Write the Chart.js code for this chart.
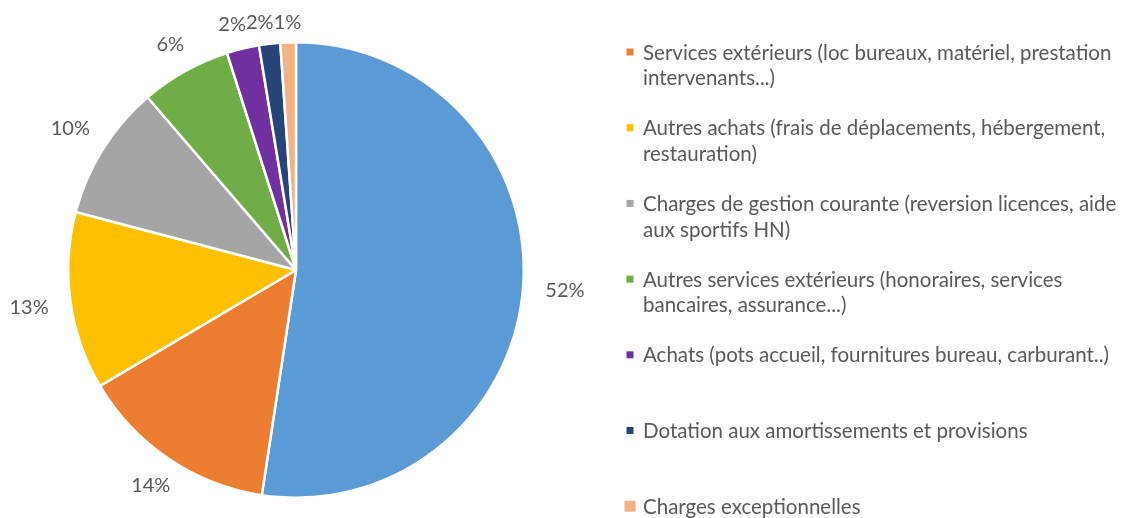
<!DOCTYPE html>
<html>
<head>
<meta charset="utf-8">
<script src="https://cdn.jsdelivr.net/npm/chart.js@4"></script>
<style>
  html, body { margin: 0; padding: 0; background: #fff; }
  canvas { display: block; }
</style>
</head>
<body>
<canvas id="pie" width="1121" height="518"></canvas>
<script>
// categories, in drawing order (clockwise from 12 o'clock)
// the first one (blue) is not visible in the legend of the reference
const categories = [
  ['Charges de personnel'],
  ['Services extérieurs (loc bureaux, matériel, prestation', 'intervenants...)'],
  ['Autres achats (frais de déplacements, hébergement,', 'restauration)'],
  ['Charges de gestion courante (reversion licences, aide', 'aux sportifs HN)'],
  ['Autres services extérieurs (honoraires, services', 'bancaires, assurance...)'],
  ['Achats (pots accueil, fournitures bureau, carburant..)'],
  ['Dotation aux amortissements et provisions'],
  ['Charges exceptionnelles']
]
// share of each item, in %
const shares = [52.4, 14.1, 12.6, 9.6, 6.4, 2.3, 1.5, 1.1]
const sliceColors = ['#5B9BD5', '#ED7D31', '#FFC000', '#A5A5A5', '#70AD47', '#7030A0', '#264478', '#F4B183']

const textColor = '#595959'
const fontFamily = 'Lato, "Open Sans", sans-serif'

// percentage labels outside the slices
const outsideLabels = {
  id: 'outsideLabels',
  afterDatasetsDraw(chart) {
    const ctx = chart.ctx
    const meta = chart.getDatasetMeta(0)
    const values = chart.data.datasets[0].data
    const total = values.reduce((a, b) => a + b, 0)
    ctx.save()
    ctx.font = '20px ' + fontFamily
    ctx.fillStyle = textColor
    ctx.textAlign = 'center'
    ctx.textBaseline = 'middle'
    const boxes = meta.data.map((arc, i) => {
      const { x, y, startAngle, endAngle, outerRadius } = arc.getProps(['x', 'y', 'startAngle', 'endAngle', 'outerRadius'], true)
      const mid = (startAngle + endAngle) / 2
      const d = outerRadius + 19 + 23 * Math.abs(Math.cos(mid))
      const txt = Math.round(values[i] / total * 100) + '%'
      return { txt, x: x + Math.cos(mid) * d, y: y + Math.sin(mid) * d, w: ctx.measureText(txt).width }
    })
    // small labels near the top: push them left so they don't overlap
    for (let i = boxes.length - 2; i >= 0; i--) {
      const a = boxes[i], b = boxes[i + 1]
      if (Math.abs(a.y - b.y) < 18) {
        const maxX = b.x - b.w / 2 - a.w / 2
        if (a.x > maxX) a.x = maxX
      }
    }
    boxes.forEach(b => ctx.fillText(b.txt, b.x, b.y))
    ctx.restore()
  }
}

// legend on the right, wrapped lines, first entry skipped
const sideLegend = {
  id: 'sideLegend',
  afterDraw(chart) {
    const ctx = chart.ctx
    const labels = chart.data.labels
    const colors = chart.data.datasets[0].backgroundColor
    ctx.save()
    ctx.font = '20.5px ' + fontFamily
    ctx.textBaseline = 'middle'
    ctx.textAlign = 'left'
    for (let i = 1; i < labels.length; i++) {
      const top = 53 + (i - 1) * 75.7
      const box = i === labels.length - 1 ? 11 : 7
      ctx.fillStyle = colors[i]
      ctx.fillRect(630 - box / 2, top - box / 2 - 1, box, box)
      ctx.fillStyle = textColor
      labels[i].forEach((line, j) => {
        ctx.fillText(line, 643, top + j * 25.5)
      })
    }
    ctx.restore()
  }
}

new Chart(document.getElementById('pie'), {
  type: 'pie',
  data: {
    labels: categories,
    datasets: [{
      data: shares,
      backgroundColor: sliceColors,
      borderColor: '#ffffff',
      borderWidth: 2.5
    }]
  },
  options: {
    responsive: false,
    animation: false,
    devicePixelRatio: 1,
    layout: { padding: { left: 67, top: 41, right: 596, bottom: 19 } },
    plugins: {
      legend: { display: false },
      tooltip: { enabled: false }
    }
  },
  plugins: [outsideLabels, sideLegend]
})
</script>
</body>
</html>
